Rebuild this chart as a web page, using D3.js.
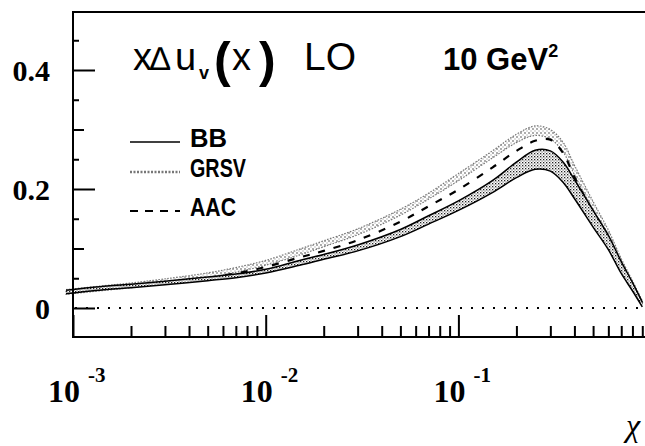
<!DOCTYPE html>
<html><head><meta charset="utf-8">
<script src="https://cdn.jsdelivr.net/npm/d3@7"></script>
<style>html,body{margin:0;padding:0;background:#fff;overflow:hidden}</style>
</head><body>
<svg id="c" width="645" height="446"></svg>
<script>
// ---- data ----
const xs      = [0.00092,0.0015,0.002,0.003,0.005,0.007,0.01,0.015,0.02,0.03,0.05,0.07,0.1,0.15,0.2,0.25,0.3,0.35,0.4,0.5,0.6,0.7,0.8,0.9];
const bbMid   = [0.027,0.034,0.037,0.042,0.049,0.054,0.062,0.076,0.086,0.101,0.126,0.148,0.172,0.204,0.232,0.249,0.247,0.228,0.200,0.150,0.110,0.068,0.036,0.006];
const bbHalf  = [0.003,0.003,0.003,0.003,0.003,0.003,0.003,0.004,0.004,0.005,0.006,0.007,0.008,0.010,0.013,0.016,0.017,0.017,0.016,0.014,0.012,0.010,0.007,0.004];
const grsvMid = [0.027,0.034,0.038,0.045,0.055,0.064,0.076,0.094,0.108,0.128,0.161,0.188,0.220,0.258,0.285,0.298,0.292,0.270,0.232,0.172,0.125,0.078,0.042,0.009];
const grsvHalf= [0.004,0.004,0.004,0.004,0.004,0.004,0.004,0.005,0.005,0.005,0.005,0.005,0.006,0.006,0.007,0.008,0.008,0.008,0.008,0.007,0.006,0.005,0.004,0.003];
const aac     = [0.027,0.034,0.037,0.043,0.051,0.058,0.069,0.085,0.096,0.114,0.145,0.171,0.199,0.236,0.264,0.281,0.283,0.260,0.220,0.160,0.117,0.074,0.039,0.008];
const yMajor  = [0, 0.2, 0.4];
const yMid    = [0.1, 0.3];
const yMinor  = [0.05, 0.15, 0.25, 0.35, 0.45];
const xMajor  = [1e-3, 1e-2, 1e-1];
const xExp    = ["-3", "-2", "-1"];
const xMinor  = [2,3,4,5,6,7,8,9].flatMap(m => [1e-3,1e-2,1e-1].map(d => m*d));
const legend  = ["BB", "GRSV", "AAC"];

// ---- scales ----
const svg = d3.select("#c");
const x = d3.scaleLog().domain([1e-3, 1]).range([73, 651.1]);
const y = d3.scaleLinear().domain([0, 0.4]).range([308, 70]);
const yTop = 12, yBot = 337;

// patterns
const defs = svg.append("defs");
const pb = defs.append("pattern").attr("id","bbPat").attr("width",3).attr("height",3).attr("patternUnits","userSpaceOnUse");
pb.append("rect").attr("width",3).attr("height",3).attr("fill","#fff");
pb.append("rect").attr("x",0).attr("y",0).attr("width",1.3).attr("height",1.3).attr("fill","#222");
pb.append("rect").attr("x",1.5).attr("y",1.5).attr("width",1.1).attr("height",1.1).attr("fill","#555");
const pg = defs.append("pattern").attr("id","grPat").attr("width",4).attr("height",4).attr("patternUnits","userSpaceOnUse");
pg.append("rect").attr("width",4).attr("height",4).attr("fill","#fff");
pg.append("circle").attr("cx",1).attr("cy",1).attr("r",0.9).attr("fill","#888");
pg.append("circle").attr("cx",3).attr("cy",3).attr("r",0.7).attr("fill","#aaa");
defs.append("clipPath").attr("id","clip").append("rect").attr("x",55).attr("y",yTop).attr("width",600).attr("height",yBot-yTop);

// ---- zero dotted line ----
svg.append("line").attr("x1",x(1e-3)).attr("x2",645).attr("y1",y(0)).attr("y2",y(0))
  .attr("stroke","#000").attr("stroke-width",2).attr("stroke-dasharray","2,9").attr("stroke-dashoffset",-2);

const data = xs.map((v,i)=>({x:v,i}));
const g = svg.append("g").attr("clip-path","url(#clip)");
const curve = d3.curveCatmullRom.alpha(0.5);

// GRSV band
const grArea = d3.area().x(d=>x(d.x)).y0(d=>y(grsvMid[d.i]-grsvHalf[d.i])).y1(d=>y(grsvMid[d.i]+grsvHalf[d.i])).curve(curve);
g.append("path").datum(data).attr("d",grArea).attr("fill","url(#grPat)").attr("stroke","#777").attr("stroke-width",1.2).attr("stroke-dasharray","1.5,1.5");

// AAC dashed
const aacLine = d3.line().x(d=>x(d.x)).y(d=>y(aac[d.i])).curve(curve);
g.append("path").datum(data).attr("d",aacLine).attr("fill","none").attr("stroke","#000").attr("stroke-width",2.2).attr("stroke-dasharray","7,9");

// BB band
const bbArea = d3.area().x(d=>x(d.x)).y0(d=>y(bbMid[d.i]-bbHalf[d.i])).y1(d=>y(bbMid[d.i]+bbHalf[d.i])).curve(curve);
g.append("path").datum(data).attr("d",bbArea).attr("fill","url(#bbPat)").attr("stroke","none");
const bbUp = d3.line().x(d=>x(d.x)).y(d=>y(bbMid[d.i]+bbHalf[d.i])).curve(curve);
const bbLo = d3.line().x(d=>x(d.x)).y(d=>y(bbMid[d.i]-bbHalf[d.i])).curve(curve);
g.append("path").datum(data).attr("d",bbUp).attr("fill","none").attr("stroke","#000").attr("stroke-width",1.5);
g.append("path").datum(data).attr("d",bbLo).attr("fill","none").attr("stroke","#000").attr("stroke-width",1.5);

// ---- frame ----
svg.append("line").attr("x1",73).attr("x2",73).attr("y1",yTop).attr("y2",yBot).attr("stroke","#000").attr("stroke-width",2);
svg.append("line").attr("x1",72).attr("x2",645).attr("y1",yTop).attr("y2",yTop).attr("stroke","#000").attr("stroke-width",2);
svg.append("line").attr("x1",72).attr("x2",645).attr("y1",yBot).attr("y2",yBot).attr("stroke","#000").attr("stroke-width",2);

// ---- axes ----
const tickStyle = sel => { sel.select(".domain").remove(); sel.selectAll(".tick line").attr("stroke","#000").attr("stroke-width",2); };
const yAx = svg.append("g").attr("transform","translate(73,0)")
  .call(d3.axisLeft(y).tickValues(yMajor).tickSize(-22).tickPadding(23).tickFormat(d=> d===0 ? "0" : d3.format(".1f")(d)));
tickStyle(yAx);
yAx.selectAll("text").attr("font-family","'Liberation Serif','Times New Roman',serif").attr("font-weight","bold").attr("font-size",30).attr("fill","#000").attr("dy","0.36em");
svg.append("g").attr("transform","translate(73,0)").call(d3.axisLeft(y).tickValues(yMid).tickSize(-11).tickFormat("")).call(tickStyle);
svg.append("g").attr("transform","translate(73,0)").call(d3.axisLeft(y).tickValues(yMinor).tickSize(-6).tickFormat("")).call(tickStyle);

svg.append("g").attr("transform",`translate(0,${yBot})`).call(d3.axisBottom(x).tickValues(xMajor).tickSize(-22).tickFormat("")).call(tickStyle);
svg.append("g").attr("transform",`translate(0,${yBot})`).call(d3.axisBottom(x).tickValues(xMinor).tickSize(-11).tickFormat("")).call(tickStyle);

// x tick labels 10^n
const serif = "'Liberation Serif','Times New Roman',serif";
xMajor.forEach((v,i)=>{
  svg.append("text").attr("x",x(v)-9).attr("y",402).attr("text-anchor","middle")
    .attr("font-family",serif).attr("font-weight","bold").attr("font-size",32).attr("fill","#000").text("10");
  svg.append("text").attr("x",x(v)+15).attr("y",382)
    .attr("font-family",serif).attr("font-weight","bold").attr("font-size",21).attr("fill","#000").text(xExp[i]);
});
svg.append("text").attr("x",626).attr("y",436).attr("font-family",serif).attr("font-style","italic").attr("font-size",32).attr("fill","#000").text("χ");

// ---- title ----
const sans = "'Liberation Sans',Arial,Helvetica,sans-serif";
const title = svg.append("g").attr("font-family",sans).attr("fill","#000");
title.append("text").attr("x",133).attr("y",70).attr("font-size",38).text("x");
title.append("text").attr("x",150).attr("y",70).attr("font-size",33).text("∆");
title.append("text").attr("x",175).attr("y",70).attr("font-size",38).text("u");
title.append("text").attr("x",199).attr("y",79).attr("font-size",18).attr("font-weight","bold").text("v");
title.append("text").attr("x",214).attr("y",77).attr("font-size",50).attr("font-weight","bold").text("(");
title.append("text").attr("x",232).attr("y",70).attr("font-size",38).text("x");
title.append("text").attr("x",259).attr("y",77).attr("font-size",50).attr("font-weight","bold").text(")");
title.append("text").attr("x",304).attr("y",70).attr("font-size",39).text("LO");
const gev = svg.append("text").attr("x",443).attr("y",70).attr("font-family",sans).attr("font-weight","bold").attr("font-size",31).attr("fill","#000");
gev.append("tspan").text("10 GeV");
gev.append("tspan").attr("font-size",18).attr("dy",-13).text("2");

// ---- legend ----
const legY = [147, 177, 216];
legend.forEach((name,i)=>{
  svg.append("text").attr("x",190).attr("y",legY[i]).attr("font-family",sans).attr("font-weight","bold").attr("font-size",25)
    .attr("textLength", [37,56,46][i]).attr("lengthAdjust","spacingAndGlyphs").attr("fill","#000").text(name);
});
svg.append("line").attr("x1",130).attr("x2",180).attr("y1",142).attr("y2",142).attr("stroke","#000").attr("stroke-width",1.5);
svg.append("line").attr("x1",130).attr("x2",180).attr("y1",172).attr("y2",172).attr("stroke","#777").attr("stroke-width",2.5).attr("stroke-dasharray","2,1.5");
svg.append("line").attr("x1",130).attr("x2",180).attr("y1",211).attr("y2",211).attr("stroke","#000").attr("stroke-width",2.2).attr("stroke-dasharray","8,7");
</script>
</body></html>
